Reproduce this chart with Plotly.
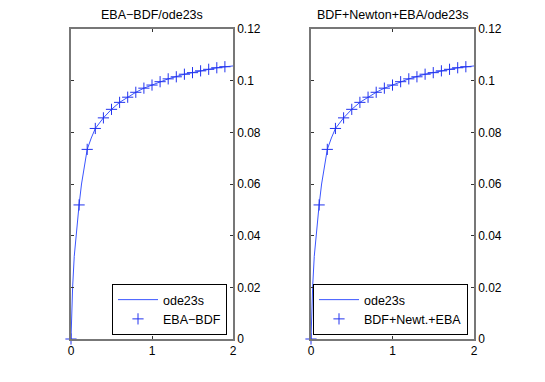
import plotly.graph_objects as go

WIDTH = 545
HEIGHT = 382
OFF = 8  # page body margin in the browser

# ode23s reference solution (dense steps)
t_ode = [0, 0.01, 0.02, 0.04, 0.06, 0.08, 0.1, 0.13, 0.16, 0.2, 0.25, 0.3, 0.4, 0.5, 0.6,
         0.7, 0.8, 0.9, 1.0, 1.2, 1.4, 1.6, 1.8, 2.0]
y_ode = [0, 0.0105, 0.020, 0.032, 0.039, 0.046, 0.052, 0.060, 0.066, 0.0734, 0.0778, 0.0815,
         0.0856, 0.0889, 0.0916, 0.0936, 0.0955, 0.0971, 0.0983, 0.1007, 0.1025, 0.1038,
         0.1050, 0.1057]

# fixed-step solutions (h = 0.1)
t_step = [0, 0.1, 0.2, 0.3, 0.4, 0.5, 0.6, 0.7, 0.8, 0.9, 1.0, 1.1, 1.2, 1.3, 1.4, 1.5,
          1.6, 1.7, 1.8, 1.9]
y_eba_bdf = [0, 0.0519, 0.0734, 0.0815, 0.0856, 0.0889, 0.0916, 0.0936, 0.0955, 0.0971,
             0.0983, 0.0996, 0.1007, 0.1015, 0.1025, 0.1031, 0.1038, 0.1044, 0.1050, 0.1054]
y_bdf_newton = [0, 0.0519, 0.0734, 0.0815, 0.0856, 0.0889, 0.0916, 0.0936, 0.0955, 0.0971,
                0.0983, 0.0996, 0.1007, 0.1015, 0.1025, 0.1031, 0.1038, 0.1044, 0.1050, 0.1054]

titles = ["EBA\u2212BDF/ode23s", "BDF+Newton+EBA/ode23s"]
marker_names = ["EBA\u2212BDF", "BDF+Newt.+EBA"]
y_ticks = [0, 0.02, 0.04, 0.06, 0.08, 0.1, 0.12]
y_tick_text = ["0", "0.02", "0.04", "0.06", "0.08", "0.1", "0.12"]
x_ticks = [0, 1, 2]

LINE_BLUE = "#3a55ff"
MARK_BLUE = "#2233ee"
FONT = dict(family="Liberation Sans, Arial, sans-serif", size=12, color="black")


def px(sx):
    return (sx - OFF) / WIDTH


def py(sy):
    return 1 - (sy - OFF) / HEIGHT


x_domains = [[px(71), px(233)], [px(311), px(474)]]
y_domain = [py(339), py(29)]

fig = go.Figure()

for i, y_step in enumerate([y_eba_bdf, y_bdf_newton]):
    sfx = "" if i == 0 else str(i + 1)
    leg = "legend" if i == 0 else "legend2"
    fig.add_trace(go.Scatter(x=t_ode, y=y_ode, mode="lines", name="ode23s",
                             line=dict(color=LINE_BLUE, width=1),
                             xaxis="x" + sfx, yaxis="y" + sfx, legend=leg))
    fig.add_trace(go.Scatter(x=t_step, y=y_step, mode="markers", name=marker_names[i],
                             marker=dict(symbol="cross-thin-open", size=8, color=MARK_BLUE,
                                         line=dict(color=MARK_BLUE, width=1)),
                             xaxis="x" + sfx, yaxis="y" + sfx, legend=leg,
                             cliponaxis=False))

axis_common = dict(showgrid=False, zeroline=False, showline=True, linecolor="#777777",
                   linewidth=1.5, mirror="ticks", ticks="inside", ticklen=3,
                   tickcolor="#333333", tickfont=FONT, automargin=False)

layout = dict(
    width=WIDTH, height=HEIGHT,
    margin=dict(l=0, r=0, t=0, b=0, autoexpand=False),
    plot_bgcolor="white", paper_bgcolor="white",
    font=FONT,
    showlegend=True,
)

for i in range(2):
    sfx = "" if i == 0 else str(i + 1)
    layout["xaxis" + sfx] = dict(axis_common, domain=x_domains[i], range=[0, 2],
                                 tickvals=x_ticks, anchor="y" + sfx)
    layout["yaxis" + sfx] = dict(axis_common, domain=y_domain, range=[0, 0.12],
                                 tickvals=y_ticks, ticktext=y_tick_text, side="right",
                                 anchor="x" + sfx)

legend_common = dict(bgcolor="white", bordercolor="black", borderwidth=1,
                     font=dict(FONT, size=12.5), xanchor="right", yanchor="bottom",
                     tracegroupgap=0, itemwidth=40)
layout["legend"] = dict(legend_common, x=px(227), y=py(335))
layout["legend2"] = dict(legend_common, x=px(468), y=py(335))

fig.update_layout(**layout)

for i in range(2):
    fig.add_annotation(text=titles[i], xref="paper", yref="paper",
                       x=sum(x_domains[i]) / 2, y=py(24),
                       xanchor="center", yanchor="bottom", showarrow=False,
                       font=dict(FONT, size=12.5))

fig.write_html("out.html")
